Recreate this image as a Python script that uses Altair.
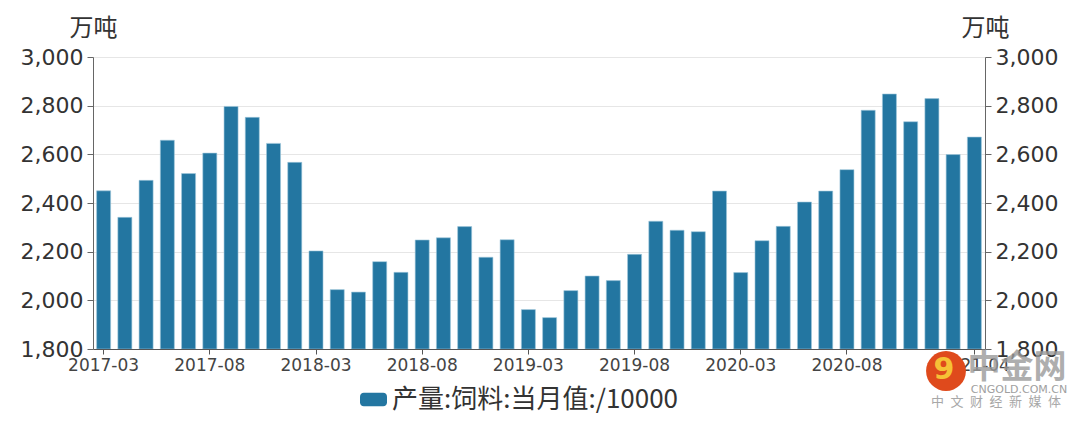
import altair as alt
import pandas as pd

months = [
    "2017-03", "2017-04", "2017-05", "2017-06", "2017-07", "2017-08", "2017-09", "2017-10", "2017-11", "2017-12",
    "2018-03", "2018-04", "2018-05", "2018-06", "2018-07", "2018-08", "2018-09", "2018-10", "2018-11", "2018-12",
    "2019-03", "2019-04", "2019-05", "2019-06", "2019-07", "2019-08", "2019-09", "2019-10", "2019-11", "2019-12",
    "2020-03", "2020-04", "2020-05", "2020-06", "2020-07", "2020-08", "2020-09", "2020-10", "2020-11", "2020-12",
    "2021-03", "2021-04",
]
values = [
    2450, 2341, 2493, 2658, 2521, 2605, 2797, 2752, 2645, 2567,
    2203, 2044, 2034, 2159, 2115, 2248, 2257, 2303, 2177, 2249,
    1962, 1929, 2040, 2100, 2081, 2189, 2325, 2288, 2282, 2449,
    2114, 2245, 2304, 2404, 2449, 2537, 2781, 2848, 2734, 2829,
    2599, 2671,
]
series_name = "产量:饲料:当月值:/10000"
tick_months = ["2017-03", "2017-08", "2018-03", "2018-08", "2019-03", "2019-08", "2020-03", "2020-08", "2021-04"]
y_ticks = [1800, 2000, 2200, 2400, 2600, 2800, 3000]
unit_label = "万吨"

df = pd.DataFrame({"month": months, "value": values, "series": series_name})

BAR = "#2376a1"
NUM_FONT = "DejaVu Sans"
CJK_FONT = "Noto Sans CJK SC"

x_enc = alt.X(
    "month:N", sort=months,
    scale=alt.Scale(paddingInner=0.34, paddingOuter=0.17),
    axis=alt.Axis(
        title=None, values=tick_months, labelAngle=0, labelFont=NUM_FONT,
        labelFontSize=17, labelColor="#444", labelPadding=3, tickSize=5,
        tickColor="#555", domainColor="#555", labelOverlap=False, grid=False,
    ),
)

yscale = alt.Scale(domain=[1800, 3000], zero=False, nice=False)

def y_axis(orient, grid):
    return alt.Axis(
        orient=orient, title=unit_label, titleAngle=0, titleAlign="center",
        titleX=0, titleY=-22, titleBaseline="alphabetic",
        titleFont=CJK_FONT, titleFontSize=24, titleFontWeight="normal", titleColor="#333",
        values=y_ticks, format=",d", labelFont=NUM_FONT, labelFontSize=22,
        labelColor="#333", labelPadding=4, tickSize=6, tickColor="#666",
        domainColor="#666", grid=grid, gridColor="#e6e6e6", labelBaseline="middle",
    )

legend_symbol = ("M-0.72,-0.5H0.72A0.28,0.28 0 0 1 1,-0.22V0.22A0.28,0.28 0 0 1 0.72,0.5"
                 "H-0.72A0.28,0.28 0 0 1 -1,0.22V-0.22A0.28,0.28 0 0 1 -0.72,-0.5Z")

bars = alt.Chart(df).mark_bar(stroke="#9fc7dc", strokeWidth=0.6, clip=True).encode(
    x=x_enc,
    y=alt.Y("value:Q", scale=yscale, axis=y_axis("left", True)),
    y2=alt.datum(1800),
    color=alt.Color(
        "series:N", scale=alt.Scale(range=[BAR]),
        legend=alt.Legend(
            title=None, orient="none", legendX=267, legendY=329, direction="horizontal",
            symbolType=legend_symbol, symbolSize=729, symbolStrokeWidth=0, symbolOpacity=1,
            labelFont=CJK_FONT, labelFontSize=26, labelColor="#333", labelOffset=5,
            labelLimit=600, padding=0, labelBaseline="middle",
        ),
    ),
)

right = alt.Chart(df).mark_bar(opacity=0).encode(
    x=alt.X("month:N", sort=months, scale=alt.Scale(paddingInner=0.34, paddingOuter=0.17)),
    y=alt.Y("value:Q", scale=yscale, axis=y_axis("right", False)),
    y2=alt.datum(1800),
)

wm = alt.Data(values=[{"a": 1}])
logo = alt.Chart(wm).mark_circle(color="#df4a1c", opacity=1, size=1590).encode(
    x=alt.value(853), y=alt.value(314)
)
logo_inner = alt.Chart(wm).mark_text(
    text="9", color="#f6c136", fontSize=30, fontWeight="bold", font=NUM_FONT,
    align="center", baseline="middle",
).encode(x=alt.value(851), y=alt.value(313))
wm_big = alt.Chart(wm).mark_text(
    text="中金网", color="#9a9a9a", opacity=0.8, fontSize=33, fontWeight="bold", font=CJK_FONT,
    align="center", baseline="middle",
).encode(x=alt.value(924), y=alt.value(311))
wm_url = alt.Chart(wm).mark_text(
    text="CNGOLD.COM.CN", color="#a0a0a0", fontSize=11, font=NUM_FONT, align="center", baseline="middle",
).encode(x=alt.value(926), y=alt.value(333))
wm_cn = alt.Chart(wm).mark_text(
    text="中\u2002文\u2002财\u2002经\u2002新\u2002媒\u2002体", color="#a8a8a8", fontSize=13, font=CJK_FONT,
    align="center", baseline="middle",
).encode(x=alt.value(903), y=alt.value(345))

chart = alt.layer(bars, right, logo, logo_inner, wm_big, wm_url, wm_cn).resolve_scale(
    y="independent"
).properties(
    width=892, height=292,
    autosize=alt.AutoSizeParams(type="none"),
    padding={"left": 85, "top": 49, "right": 85, "bottom": 64},
).configure_view(stroke=None).configure(background="white")

chart.save("out.html", embed_options={"renderer": "svg", "actions": False})
